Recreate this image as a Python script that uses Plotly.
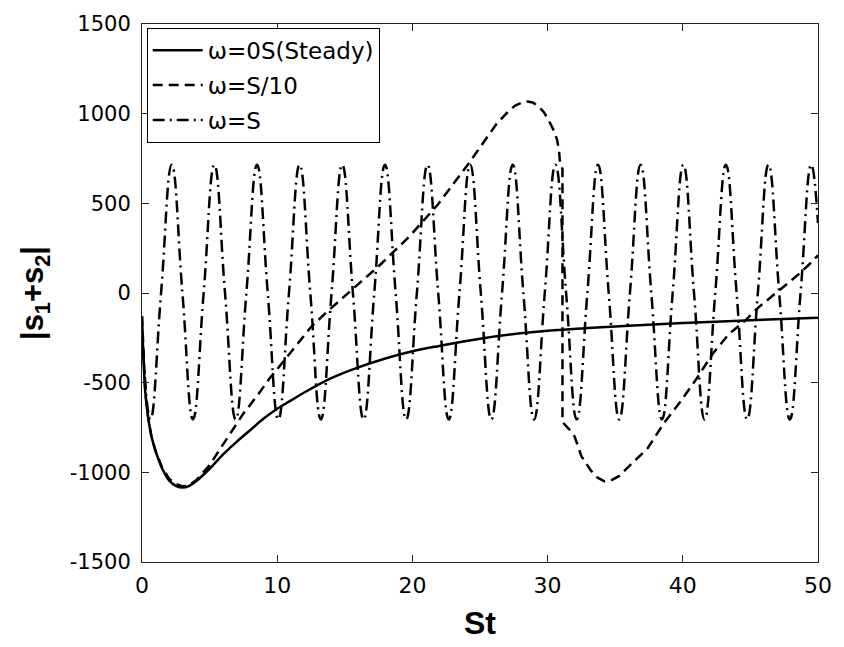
import plotly.graph_objects as go

# ---- data ----
steady_t = [0, 0.1, 0.25, 0.45, 0.7, 1.0, 1.5, 2.0, 2.5, 3.0, 3.5, 4.0, 5.0, 6.0, 7.0, 8.0, 9.0,
            10.0, 11.0, 12.0, 14.0, 16.0, 18.0, 20.0, 22.0, 25.0, 28.0, 30.0, 33.0, 36.0, 40.0, 45.0, 50.0]
steady_v = [-130, -350, -560, -690, -800, -880, -980, -1045, -1075, -1085, -1075, -1050, -980, -900,
            -830, -765, -700, -645, -600, -555, -475, -415, -365, -325, -295, -255, -225, -210, -195,
            -183, -167, -152, -138]

slow_t = [0, 0.1, 0.25, 0.45, 0.7, 1.0, 1.5, 2.0, 2.5, 3.0, 3.4, 4.0, 5.0, 5.6, 6.7, 7.5, 8.5, 9.4,
          10.8, 12.5, 13.6, 15.2, 17.6, 19.8, 21.9, 24.2, 26.2, 27.0, 27.6, 28.1, 28.5, 28.9, 29.3,
          29.7, 30.0, 30.4, 30.7, 30.85, 30.9, 31.1, 31.1, 31.6, 32.0, 32.5, 33.2, 33.7, 34.2, 34.7,
          35.3, 35.9, 36.6, 37.4, 38.6, 39.8, 41.0, 42.2, 43.4, 44.6, 45.6, 47.1, 48.5, 49.3, 50.0]
slow_v = [-130, -350, -560, -690, -800, -880, -975, -1035, -1065, -1078, -1075, -1045, -960, -890,
          -760, -672, -575, -480, -350, -190, -110, -5, 156, 317, 495, 726, 941, 1005, 1045, 1062,
          1068, 1062, 1043, 1010, 975, 915, 855, 790, 740, 690, -720, -760, -800, -910, -990, -1030,
          -1050, -1045, -1020, -975, -925, -866, -726, -608, -480, -340, -230, -155, -80, 11, 100,
          156, 210]

fast_t = [0, 0.62, 1.41, 2.20, 2.99, 3.77, 4.56, 5.35, 6.14, 6.93, 7.72, 8.51, 9.30, 10.08, 10.87,
          11.66, 12.45, 13.23, 14.02, 14.81, 15.60, 16.39, 17.18, 17.97, 18.76, 19.54, 20.33, 21.12,
          21.91, 22.69, 23.48, 24.27, 25.06, 25.84, 26.63, 27.42, 28.21, 29.00, 29.79, 30.58, 31.37,
          32.15, 32.94, 33.73, 34.52, 35.30, 36.09, 36.88, 37.67, 38.46, 39.25, 40.04, 40.83, 41.61,
          42.40, 43.19, 43.98, 44.76, 45.55, 46.34, 47.13, 47.92, 48.71, 49.50, 50.0]
fast_v = [-200, -705, 0, 715, 0, -705, 0, 715, 0, -705, 0, 715, 0, -705, 0,
          715, 0, -705, 0, 715, 0, -705, 0, 715, 0, -705, 0, 715,
          0, -705, 0, 715, 0, -705, 0, 715, 0, -705, 0, 715, 0,
          -705, 0, 715, 0, -705, 0, 715, 0, -705, 0, 715, 0, -705,
          0, 715, 0, -705, 0, 715, 0, -705, 0, 715, 390]

names = ["\u03c9=0S(Steady)", "\u03c9=S/10", "\u03c9=S"]
x_ticks = [0, 10, 20, 30, 40, 50]
x_ticktext = ["0", "10", "20", "30", "40", "50"]
y_ticks = [-1500, -1000, -500, 0, 500, 1000, 1500]
y_ticktext = ["-1500", "-1000", "-500", "0", "500", "1000", "1500"]

FONT = "DejaVu Sans, Liberation Sans, Arial, sans-serif"
TFONT = "Liberation Sans, Arial, sans-serif"

fig = go.Figure()
fig.add_trace(go.Scatter(x=steady_t, y=steady_v, mode="lines", name=names[0], legendgroup="a",
                         line=dict(color="black", width=2.5, shape="spline", smoothing=1.0)))
fig.add_trace(go.Scatter(x=slow_t, y=slow_v, mode="lines", name=names[1], legendgroup="b",
                         line=dict(color="black", width=2.5, dash="10px,6px")))
fig.add_trace(go.Scatter(x=fast_t, y=fast_v, mode="lines", name=names[2], legendgroup="c",
                         line=dict(color="black", width=2.5, dash="12px,5px,2px,5px",
                                   shape="spline", smoothing=1.3)))

axis_common = dict(showline=True, linecolor="#222", linewidth=1, mirror="ticks", ticks="inside",
                   ticklen=7, tickcolor="#222", showgrid=False, zeroline=False)

fig.update_layout(
    width=844, height=647,
    margin=dict(l=142, r=16, t=16, b=79),
    paper_bgcolor="white", plot_bgcolor="white",
    font=dict(family=FONT, color="black"),
    xaxis=dict(range=[0, 50], tickvals=x_ticks, ticktext=x_ticktext, tickfont=dict(size=22),
               title=dict(text="<b>St</b>", font=dict(size=32, family=TFONT), standoff=14),
               ticklabelstandoff=4, **axis_common),
    yaxis=dict(range=[-1500, 1500], tickvals=y_ticks, ticktext=y_ticktext, tickfont=dict(size=21),
               title=dict(text="<b>|s<sub>1</sub>+s<sub>2</sub>|</b>", font=dict(size=31, family=TFONT),
                          standoff=16),
               ticklabelstandoff=6, **axis_common),
    showlegend=True,
    legend=dict(x=0.007, y=0.993, xanchor="left", yanchor="top", bgcolor="white",
                bordercolor="black", borderwidth=1, font=dict(size=23, family=FONT),
                traceorder="grouped", tracegroupgap=2, itemwidth=50),
)

fig.write_html("out.html")
